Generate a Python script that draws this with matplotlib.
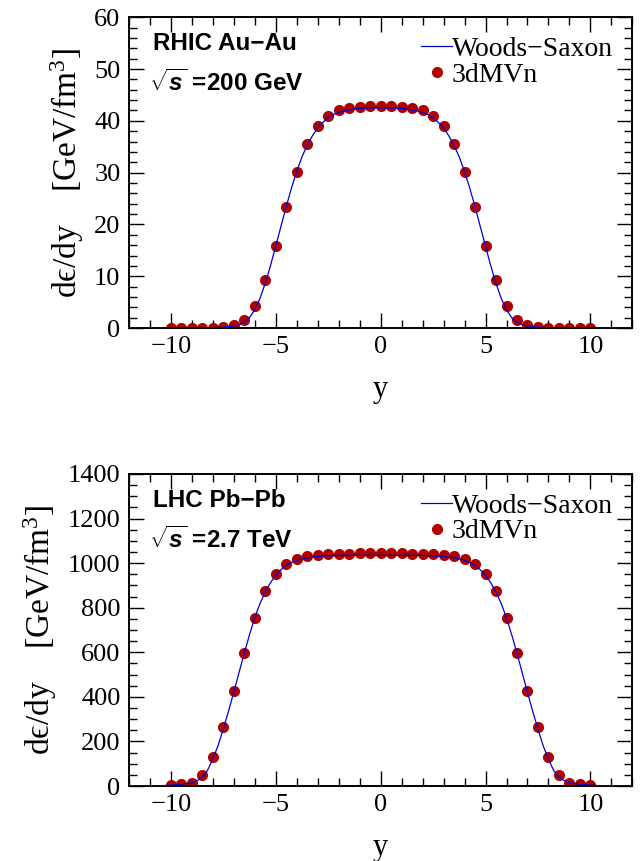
import numpy as np
import matplotlib
matplotlib.use("Agg")
import matplotlib.pyplot as plt
from matplotlib.ticker import MultipleLocator

plt.rcParams['font.family'] = ['Liberation Serif', 'DejaVu Serif']
plt.rcParams['mathtext.fontset'] = 'custom'
plt.rcParams['mathtext.rm'] = 'Liberation Serif'
plt.rcParams['mathtext.it'] = 'Liberation Serif:italic'
plt.rcParams['mathtext.bf'] = 'Liberation Sans:italic:bold'

# rapidity grid of the 3dMVn points
y_pts = np.arange(-10, 10.01, 0.5)
# rapidity grid of the Woods-Saxon curve (left half, mirrored below)
y_curve = np.arange(-12, 12.01, 0.25)

# RHIC Au-Au, sqrt(s)=200 GeV
rhic_pts = [0.0, 0.05, 0.05, 0.05, 0.1, 0.2, 0.5, 1.5, 4.2, 9.2, 15.9,
            23.4, 30.2, 35.5, 39.0, 41.0, 42.1, 42.5, 42.7, 42.8, 42.8,
            42.8, 42.7, 42.5, 42.1, 41.0, 39.0, 35.5, 30.2, 23.4, 15.9,
            9.2, 4.2, 1.5, 0.5, 0.2, 0.1, 0.05, 0.05, 0.05, 0.0]
rhic_curve_half = [0, 0, 0, 0, 0, 0, 0, 0, 0, 0.005, 0.01, 0.015, 0.02,
                   0.03, 0.04, 0.06, 0.08, 0.12, 0.17, 0.26, 0.4, 0.65, 1.1,
                   2.0, 3.5, 5.7, 8.6, 12.0, 15.8, 19.6, 23.4, 27.0, 30.2,
                   33.0, 35.3, 37.1, 38.6, 39.7, 40.6, 41.2, 41.6, 41.9, 42.1,
                   42.3, 42.4, 42.45, 42.5, 42.5, 42.5]

# LHC Pb-Pb, sqrt(s)=2.7 TeV
lhc_pts = [5, 8, 15, 48, 129, 264, 426, 597, 755, 875, 953, 997, 1018,
           1030, 1036, 1039, 1041, 1043, 1044, 1044, 1044, 1044, 1044,
           1043, 1041, 1039, 1036, 1030, 1018, 997, 953, 875, 755, 597,
           426, 264, 129, 48, 15, 8, 5]
lhc_curve_half = [0, 0, 0, 0.2, 0.5, 1, 1.5, 2.5, 4, 5.5, 8, 11, 15, 24, 38,
                  70, 120, 180, 255, 335, 420, 508, 595, 678, 755, 818, 870,
                  912, 945, 970, 990, 1003, 1012, 1019, 1024, 1027, 1030,
                  1032, 1033, 1034, 1035, 1035, 1035, 1035, 1035, 1035, 1035,
                  1035, 1035]

rhic_curve = rhic_curve_half + rhic_curve_half[-2::-1]
lhc_curve = lhc_curve_half + lhc_curve_half[-2::-1]

panels = [
    (rhic_pts, rhic_curve, 'RHIC Au\u2212Au', r'$\sqrt{\mathbf{s}}$ =200 GeV',
     60, 10, 2, [0.200, 0.619, 0.782, 0.361]),
    (lhc_pts, lhc_curve, 'LHC Pb\u2212Pb', r'$\sqrt{\mathbf{s}}$ =2.7 TeV',
     1400, 200, 50, [0.200, 0.0871, 0.782, 0.3624]),
]

fig = plt.figure(figsize=(6.44, 8.61), dpi=100)

for pts, curve, title1, title2, ymax, major, minor, rect in panels:
    ax = fig.add_axes(rect)
    ax.plot(y_curve, curve, color='#0000cc', linewidth=0.9,
            label='Woods\u2212Saxon', zorder=3)
    ax.plot(y_pts, pts, 'o', color='#b00000', markersize=8,
            markeredgewidth=0, label='3dMVn', zorder=2)
    ax.set_xlim(-12, 12)
    ax.set_ylim(0, ymax)
    ax.xaxis.set_major_locator(MultipleLocator(5))
    ax.xaxis.set_minor_locator(MultipleLocator(1))
    ax.yaxis.set_major_locator(MultipleLocator(major))
    ax.yaxis.set_minor_locator(MultipleLocator(minor))
    ax.tick_params(which='both', direction='in', top=True, right=True,
                   labelsize=19, width=1.0, pad=6)
    ax.tick_params(which='major', length=11)
    ax.tick_params(which='minor', length=6)
    for sp in ax.spines.values():
        sp.set_linewidth(1.4)
    ax.set_xlabel('y', fontsize=22, labelpad=12)
    ax.set_ylabel('d\u03f5/dy    [GeV/fm$^3$]', fontsize=24, labelpad=6)

    ax.text(0.048, 0.915, title1, transform=ax.transAxes, fontsize=17.5,
            fontweight='bold', family='Liberation Sans', va='center')
    ax.text(0.04, 0.79, title2, transform=ax.transAxes, fontsize=17.5,
            fontweight='bold', family='Liberation Sans', va='center')

    ax.legend(loc='upper right', frameon=False, fontsize=20,
              handlelength=1.1, handletextpad=0.0, borderaxespad=0.3,
              labelspacing=0.0, borderpad=0.4)

fig.savefig('out.png', dpi=100)
